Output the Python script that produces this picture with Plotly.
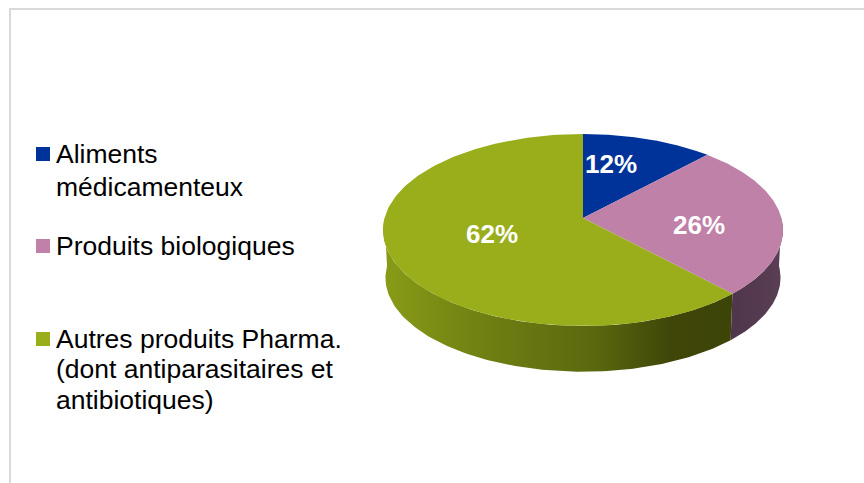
import numpy as np
import plotly.graph_objects as go

categories = ["Aliments médicamenteux", "Produits biologiques", "Autres produits Pharma."]
values = [12, 26, 62]
label_text = ["12%", "26%", "62%"]
legend_lines = [["Aliments", "médicamenteux"], ["Produits biologiques"],
                ["Autres produits Pharma.", "(dont antiparasitaires et", "antibiotiques)"]]
top_colors = ["#003399", "#C081A9", "#99AE1A"]

W, H = 864, 483
K = 0.125
CX, AY, RX, RY = 583.0, 218.0, 198.4, 94.5
CX2, AY2, RX2, RY2 = 583.0, 266.0, 196.0, 92.5


def proj(theta, rx=RX, ry=RY, ay=AY, cx=CX):
    u, v = np.sin(theta), np.cos(theta)
    s = 1 / (1 + K * v)
    return cx + rx * u * s, ay - ry * v * s


fr = np.cumsum([0] + values) / sum(values) * 2 * np.pi
fig = go.Figure()


def side(t0, t1, scale, start, stop):
    t = np.linspace(t0, t1, 120)
    x1, y1 = proj(t)
    x2, y2 = proj(t, RX2, RY2, AY2, CX2)
    xs = np.r_[x1, x2[::-1], x1[0]]
    ys = np.r_[y1, y2[::-1], y1[0]]
    fig.add_trace(go.Scatter(x=xs, y=ys, mode="lines", line=dict(width=0), fill="toself",
                             fillgradient=dict(type="horizontal", colorscale=scale, start=start, stop=stop),
                             hoverinfo="skip", showlegend=False))


olive = [[0, "#8A9C17"], [0.3, "#6F7F12"], [0.6, "#5C680F"], [0.82, "#3F4608"], [1, "#3D4407"]]
plum = [[0, "#4F3549"], [1, "#5A3F55"]]
side(fr[2], np.pi * 1.5, olive, 380, 735)
side(np.pi / 2, fr[2], plum, 725, 785)

for i in range(3):
    t = np.linspace(fr[i], fr[i + 1], 160)
    x, y = proj(t)
    fig.add_trace(go.Scatter(x=np.r_[CX, x, CX], y=np.r_[AY, y, AY], mode="lines", line=dict(width=0),
                             fill="toself", fillcolor=top_colors[i], name=categories[i],
                             hoverinfo="name", showlegend=False))

# value labels
label_pos = [(611, 164), (699, 225), (492, 234)]
for (lx, ly), s in zip(label_pos, label_text):
    fig.add_annotation(x=lx, y=ly, text=f"<b>{s}</b>", showarrow=False,
                       font=dict(family="Liberation Sans", size=26, color="white"))

# legend
legend_y = [[154, 187], [246], [339, 369, 400]]
legend_sq = [154, 246, 339]
fig.add_trace(go.Scatter(x=[43] * 3, y=legend_sq, mode="markers",
                         marker=dict(symbol="square", size=14, color=top_colors),
                         hoverinfo="skip", showlegend=False))
for lines, ys in zip(legend_lines, legend_y):
    for line, y in zip(lines, ys):
        fig.add_annotation(x=54, y=y, text=line, xanchor="left", showarrow=False,
                           font=dict(family="Liberation Sans", size=26.5, color="black"))

# frame
fig.add_shape(type="rect", x0=10, x1=880, y0=9, y1=500, line=dict(color="#D9D9D9", width=2))

fig.update_layout(width=W, height=H, margin=dict(l=0, r=0, t=0, b=0),
                  paper_bgcolor="white", plot_bgcolor="white",
                  xaxis=dict(range=[0, W], visible=False, fixedrange=True),
                  yaxis=dict(range=[H, 0], visible=False, fixedrange=True))
fig.write_html("out.html", config={"displayModeBar": False},
               post_script="document.body.style.margin='0';document.documentElement.style.overflow='hidden';")
